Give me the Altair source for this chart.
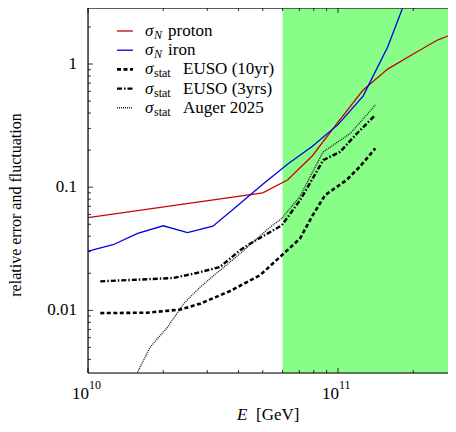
import altair as alt
import pandas as pd

# ---------------- data ----------------
proton_E = [1.0e10, 5.0e10, 6.3e10, 7.9e10, 1.0e11, 1.26e11, 1.58e11, 2.0e11, 2.5e11, 3.16e11]
proton_v = [0.0565, 0.090, 0.115, 0.180, 0.337, 0.615, 0.91, 1.205, 1.566, 1.89]

iron_E = [1.0e10, 1.26e10, 1.58e10, 2.0e10, 2.5e10, 3.16e10, 3.98e10, 5.0e10, 6.3e10,
          7.9e10, 1.0e11, 1.26e11, 1.58e11, 2.0e11]
iron_v = [0.0302, 0.0341, 0.0421, 0.0486, 0.0428, 0.0482, 0.0714, 0.1057, 0.154,
          0.215, 0.322, 0.549, 1.374, 4.8]

euso10_E = [1.12e10, 1.72e10, 2.33e10, 2.81e10, 3.70e10, 4.88e10, 5.96e10, 7.05e10,
            7.85e10, 8.87e10, 1.08e11, 1.22e11, 1.41e11]
euso10_v = [0.0095, 0.00957, 0.01014, 0.01133, 0.01435, 0.0193, 0.0280, 0.0383,
            0.0574, 0.0861, 0.114, 0.146, 0.2066]

euso3_E = [1.12e10, 2.19e10, 2.72e10, 3.37e10, 4.06e10, 4.45e10, 5.96e10, 7.05e10,
           7.85e10, 8.73e10, 1.02e11, 1.19e11, 1.41e11]
euso3_v = [0.0172, 0.0183, 0.0201, 0.0225, 0.0308, 0.0348, 0.0491, 0.0784,
           0.114, 0.166, 0.1937, 0.273, 0.385]

auger_E = [1.41e10, 1.57e10, 1.77e10, 2.07e10, 2.42e10, 2.81e10, 3.37e10, 4.06e10,
           5.26e10, 5.96e10, 7.05e10, 8.71e10, 1.12e11, 1.41e11]
auger_v = [0.00204, 0.00308, 0.0050, 0.00721, 0.0114, 0.01545, 0.0211, 0.0289,
           0.0461, 0.0557, 0.0845, 0.193, 0.273, 0.4645]

x_domain = [1e10, 2.754e11]
y_domain = [0.0031, 2.85]
green_band = [6.0e10, 2.754e11]

x_major = [1e10, 1e11]
x_major_exp = ["10", "11"]
x_minor = [2e10, 3e10, 4e10, 5e10, 6e10, 7e10, 8e10, 9e10, 2e11]
y_major = [0.01, 0.1, 1.0]
y_major_labels = ["0.01", "0.1", "1"]
y_minor = [0.004, 0.005, 0.006, 0.007, 0.008, 0.009,
           0.02, 0.03, 0.04, 0.05, 0.06, 0.07, 0.08, 0.09,
           0.2, 0.3, 0.4, 0.5, 0.6, 0.7, 0.8, 0.9, 2.0]

legend_subs = ["N", "N", "stat", "stat", "stat"]
legend_text = ["proton", "iron", "EUSO (10yr)", "EUSO (3yrs)", "Auger 2025"]

# ---------------- styling ----------------
W, H = 360, 365
SERIF = "Liberation Serif"
FS = 17
RED = "#cc0000"
BLUE = "#0000e0"
GREEN = "#88fe88"
xscale = alt.Scale(type="log", domain=x_domain, nice=False)
yscale = alt.Scale(type="log", domain=y_domain, nice=False)
one = pd.DataFrame({"a": [0]})

styles = [
    dict(color=RED, strokeWidth=1.3),
    dict(color=BLUE, strokeWidth=1.3),
    dict(color="black", strokeWidth=2.6, strokeDash=[4, 2.5]),
    dict(color="black", strokeWidth=2.4, strokeDash=[5, 2, 1.5, 2]),
    dict(color="#222222", strokeWidth=1.4, strokeDash=[1, 1]),
]

layers = []

# green band
layers.append(
    alt.Chart(pd.DataFrame({"E": [green_band[0]], "E2": [green_band[1]]}))
    .mark_rect(color=GREEN, opacity=1)
    .encode(x=alt.X("E:Q", scale=xscale, axis=None), x2="E2:Q",
            y=alt.value(0), y2=alt.value(H))
)

series = [(proton_E, proton_v), (iron_E, iron_v), (euso10_E, euso10_v),
          (euso3_E, euso3_v), (auger_E, auger_v)]
for (E, v), st in zip(series, styles):
    df = pd.DataFrame({"E": E, "v": v})
    layers.append(
        alt.Chart(df).mark_line(clip=True, **st).encode(
            x=alt.X("E:Q", scale=xscale, axis=None),
            y=alt.Y("v:Q", scale=yscale, axis=None),
        )
    )

# frame lines
frame = dict(color="black", strokeWidth=1.2)
layers.append(alt.Chart(one).mark_rule(**frame).encode(
    x=alt.value(0), x2=alt.value(W), y=alt.value(H)))
layers.append(alt.Chart(one).mark_rule(color="#333333", strokeWidth=1.4).encode(
    x=alt.value(0), x2=alt.value(W), y=alt.value(0)))
layers.append(alt.Chart(one).mark_rule(**frame).encode(
    x=alt.value(0), y=alt.value(0), y2=alt.value(H)))

# inward ticks
for vals, ln in [(x_major, 5), (x_minor, 3)]:
    d = pd.DataFrame({"E": vals})
    layers.append(alt.Chart(d).mark_rule(color="black", strokeWidth=0.8).encode(
        x=alt.X("E:Q", scale=xscale, axis=None), y=alt.value(H), y2=alt.value(H - ln)))
    layers.append(alt.Chart(d).mark_rule(color="black", strokeWidth=0.8).encode(
        x=alt.X("E:Q", scale=xscale, axis=None), y=alt.value(0), y2=alt.value(ln)))
for vals, ln in [(y_major, 5), (y_minor, 3)]:
    d = pd.DataFrame({"v": vals})
    layers.append(alt.Chart(d).mark_rule(color="black", strokeWidth=0.8).encode(
        y=alt.Y("v:Q", scale=yscale, axis=None), x=alt.value(0), x2=alt.value(ln)))

# y tick labels
dym = pd.DataFrame({"v": y_major, "lab": y_major_labels})
layers.append(alt.Chart(dym).mark_text(align="right", baseline="middle", font=SERIF,
                                       fontSize=FS, color="black").encode(
    y=alt.Y("v:Q", scale=yscale, axis=None), x=alt.value(-11), text="lab:N"))

# x tick labels 10^10, 10^11
dxm = pd.DataFrame({"E": x_major, "exp": x_major_exp})
layers.append(alt.Chart(dxm).mark_text(align="right", baseline="alphabetic", dx=1,
                                       font=SERIF, fontSize=FS, color="black").encode(
    x=alt.X("E:Q", scale=xscale, axis=None), y=alt.value(H + 26), text=alt.value("10")))
layers.append(alt.Chart(dxm).mark_text(align="left", baseline="alphabetic", dx=1,
                                       font=SERIF, fontSize=12, color="black").encode(
    x=alt.X("E:Q", scale=xscale, axis=None), y=alt.value(H + 16), text="exp:N"))

# axis titles
layers.append(alt.Chart(one).mark_text(align="left", baseline="alphabetic", font=SERIF,
                                       fontSize=FS, fontStyle="italic", color="black").encode(
    x=alt.value(149), y=alt.value(H + 47), text=alt.value("E")))
layers.append(alt.Chart(one).mark_text(align="left", baseline="alphabetic", font=SERIF,
                                       fontSize=FS, color="black").encode(
    x=alt.value(168), y=alt.value(H + 47), text=alt.value("[GeV]")))
layers.append(alt.Chart(one).mark_text(align="center", baseline="middle", angle=270,
                                       font=SERIF, fontSize=16, color="black").encode(
    x=alt.value(-72), y=alt.value(197), text=alt.value("relative error and fluctuation")))

# legend
row0, step = 23, 19.2
for i, (st, sub, txt) in enumerate(zip(styles, legend_subs, legend_text)):
    ry = row0 + i * step
    layers.append(alt.Chart(one).mark_rule(**st).encode(
        x=alt.value(29), x2=alt.value(45), y=alt.value(ry)))
    layers.append(alt.Chart(one).mark_text(align="left", baseline="alphabetic", font=SERIF,
                                           fontSize=FS, fontStyle="italic", color="black").encode(
        x=alt.value(57), y=alt.value(ry + 5), text=alt.value("σ")))
    layers.append(alt.Chart(one).mark_text(align="left", baseline="alphabetic", font=SERIF,
                                           fontSize=12,
                                           fontStyle="italic" if sub == "N" else "normal",
                                           color="black").encode(
        x=alt.value(66), y=alt.value(ry + 8), text=alt.value(sub)))
    layers.append(alt.Chart(one).mark_text(align="left", baseline="alphabetic", font=SERIF,
                                           fontSize=FS, color="black").encode(
        x=alt.value(80 if sub == "N" else 95), y=alt.value(ry + 5), text=alt.value(txt)))

chart = alt.layer(*layers).properties(
    width=W, height=H,
    autosize=alt.AutoSizeParams(type="none"),
    padding={"left": 80, "top": 0, "right": 0, "bottom": 51},
).configure_view(stroke=None).configure(background="white")

chart.save("out.html", embed_options={"renderer": "svg", "actions": False})
